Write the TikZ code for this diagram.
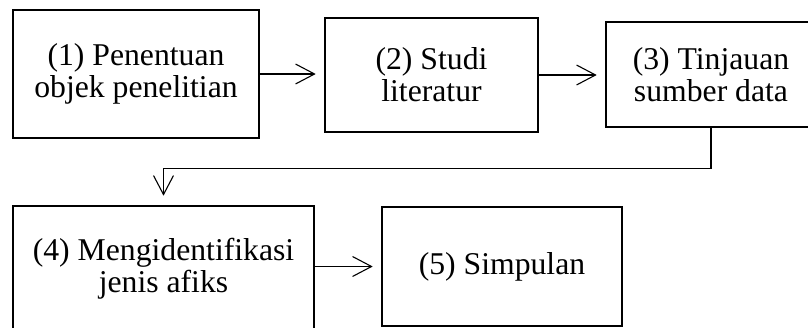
\documentclass[tikz,border=0pt]{standalone}
\usepackage{fontspec}
\setmainfont{Liberation Serif}
\usetikzlibrary{arrows.meta}
\tikzset{
  stepbox/.style={draw, line width=2.6pt, inner sep=0pt, align=center,
    font=\fontsize{31.7}{32}\selectfont},
  flow/.style={line width=1.1pt, -{Straight Barb[length=19pt,width=20pt,line width=1.1pt]},
    shorten >=8pt}
}
\begin{document}
\begin{tikzpicture}[x=1pt, y=-1pt]
  \clip (0,0) rectangle (808,327);
  \fill[white] (0,0) rectangle (808,327);

  \node[stepbox, minimum width=246pt, minimum height=128pt] (t1) at (136,74)
    {(1) Penentuan\\objek penelitian};
  \node[stepbox, minimum width=213pt, minimum height=114pt] (t2) at (431.5,75)
    {(2) Studi\\literatur};
  \node[stepbox, minimum width=210pt, minimum height=105pt] (t3) at (711,74.5)
    {(3) Tinjauan\\sumber data};
  \node[stepbox, minimum width=301pt, minimum height=126pt] (t4) at (163.5,269)
    {(4) Mengidentifikasi\\jenis afiks};
  \node[stepbox, minimum width=240pt, minimum height=119pt] (t5) at (502,266.5)
    {(5) Simpulan};

  \draw[flow] (t1.east) -- (t1.east -| t2.west);
  \draw[flow] (t2.east) -- (t2.east -| t3.west);
  \draw[flow, shorten >=9pt] (t3.south) -- ++(0,40) -| (t4.north);
  \draw[flow] (t4.east |- t5.west) -- (t5.west);
\end{tikzpicture}
\end{document}
